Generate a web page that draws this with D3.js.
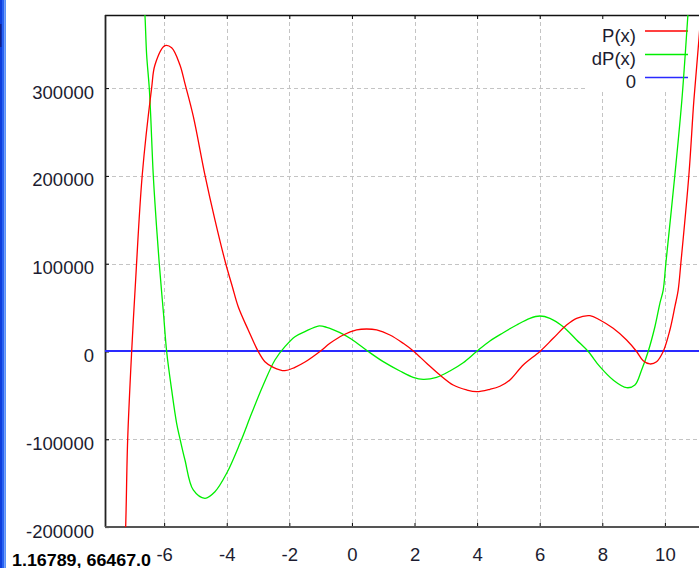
<!DOCTYPE html>
<html>
<head>
<meta charset="utf-8">
<script src="https://cdn.jsdelivr.net/npm/d3@7/dist/d3.min.js"></script>
<style>
  html, body { margin: 0; padding: 0; background: #fff; overflow: hidden; }
  svg { display: block; }
  .lbl { font-family: "Liberation Sans Narrow", "Liberation Sans", Arial, sans-serif; font-size: 18.5px; fill: #1c1c30; }
</style>
</head>
<body>
<script>
// ---- data ----
const xTicks = [-6, -4, -2, 0, 2, 4, 6, 8, 10];
const yTicks = [-200000, -100000, 0, 100000, 200000, 300000];

const pX = [-7.28, -7.23, -7.166, -7.038, -6.911, -6.70, -6.40, -6.294, -5.974, -5.76, -5.495, -5.335, -5.07, -4.696, -4.377, -4.035, -3.818, -3.633, -3.313, -2.994, -2.78, -2.514, -2.141, -1.821, -1.50, -1.022, -0.703, -0.278, 0.15, 0.47, 0.789, 1.214, 1.639, 1.981, 2.387, 2.812, 3.236, 3.665, 3.984, 4.409, 4.728, 5.048, 5.473, 6.006, 6.431, 6.859, 7.179, 7.604, 7.923, 8.348, 8.776, 9.096, 9.307, 9.521, 9.735, 9.946, 10.16, 10.319, 10.425, 10.511, 10.767, 10.927, 11.086, 11.18];
const pY = [-240000, -199900, -100800, 0, 81400, 201000, 300100, 326300, 348300, 346000, 326300, 305000, 268000, 201000, 150000, 100500, 73500, 51000, 24500, 0, -11600, -18000, -21900, -18000, -12000, 0, 9300, 18800, 24500, 25600, 24500, 18800, 9300, 0, -13400, -26800, -38200, -43800, -45800, -43100, -39600, -32500, -15400, 0, 15000, 30200, 37800, 40800, 35900, 26400, 13100, 0, -10500, -14200, -11600, 0, 24500, 51000, 70000, 100800, 201000, 286400, 354800, 400000];

const dX = [-6.645, -6.613, -6.559, -6.476, -6.431, -6.348, -6.24, -6.157, -6.086, -6.022, -5.92, -5.76, -5.601, -5.495, -5.335, -5.07, -4.696, -4.377, -4.003, -3.578, -3.204, -2.834, -2.46, -2.141, -1.821, -1.502, -1.077, -0.808, -0.383, -0.01, 0.521, 1.0, 1.534, 1.958, 2.278, 2.706, 3.131, 3.556, 3.984, 4.409, 4.834, 5.262, 5.687, 6.006, 6.326, 6.751, 7.179, 7.55, 7.923, 8.348, 8.776, 9.042, 9.256, 9.466, 9.681, 9.84, 9.946, 10.032, 10.319, 10.543, 10.735, 10.767];
const dY = [400000, 383000, 337700, 300400, 269300, 201000, 140700, 100500, 70000, 43800, 0, -43800, -81800, -99300, -123600, -157700, -167200, -159700, -138700, -104600, -70400, -38200, -9700, 5500, 16900, 22600, 29000, 27600, 21400, 13900, 0, -11600, -22200, -29400, -31700, -29400, -22200, -12800, 0, 12000, 21400, 30200, 37800, 40400, 37800, 28200, 13100, 0, -17300, -32500, -41200, -38200, -21100, 0, 28200, 54900, 70000, 100800, 201000, 286400, 383000, 400000];

const zeroX = [-7.89, 11.09];
const zeroY = [0, 0];

const seriesNames = ["P(x)", "dP(x)", "0"];
const seriesColors = ["#ff0000", "#00ee00", "#2a2aff"];
const cursorText = "1.16789, 66467.0";

// ---- layout ----
const W = 699, H = 568;
const L = 105, R = 699, T = 15, B = 527;

const svg = d3.select("body").append("svg").attr("width", W).attr("height", H);
svg.append("rect").attr("width", W).attr("height", H).attr("fill", "#fff");

// window edge
svg.append("rect").attr("x", 0).attr("y", 0).attr("width", 2).attr("height", H).attr("fill", "#0f3fdc");
svg.append("rect").attr("x", 2).attr("y", 0).attr("width", 2.5).attr("height", H).attr("fill", "#2862f2");
svg.append("rect").attr("x", 4.5).attr("y", 0).attr("width", 1.5).attr("height", H).attr("fill", "#5b93f8");
svg.append("rect").attr("x", 0).attr("y", 24).attr("width", 1.5).attr("height", 23).attr("fill", "#10208a");

const x = d3.scaleLinear().domain([-7.89, 11.09]).range([L, R]);
const y = d3.scaleLinear().domain([-199900, 383260]).range([B, T]);

svg.append("defs").append("clipPath").attr("id", "plot")
  .append("rect").attr("x", L).attr("y", T).attr("width", R - L).attr("height", B - T);

// grid
const grid = svg.append("g").attr("stroke", "#c4c4c4").attr("stroke-width", 1).attr("stroke-dasharray", "4,3");
grid.selectAll("line.v").data(xTicks).join("line")
  .attr("x1", d => Math.round(x(d)) + 0.5).attr("x2", d => Math.round(x(d)) + 0.5)
  .attr("y1", T).attr("y2", B);
grid.selectAll("line.h").data(yTicks.filter(d => d !== -200000)).join("line")
  .attr("x1", L).attr("x2", R)
  .attr("y1", d => Math.round(y(d)) + 0.5).attr("y2", d => Math.round(y(d)) + 0.5);

// legend background
svg.append("rect").attr("x", 585).attr("y", T + 1).attr("width", R - 585).attr("height", 76).attr("fill", "#fff");

// axes
const fmt = d => String(d);
const gx = svg.append("g").attr("transform", `translate(0,${B})`)
  .call(d3.axisBottom(x).tickValues(xTicks).tickSize(-4).tickFormat(fmt));
gx.select(".domain").remove();
gx.selectAll("text").attr("class", "lbl").attr("dy", null).attr("y", 33.5).attr("fill", null);
gx.selectAll("line").attr("stroke", "#000");

const gt = svg.append("g").attr("transform", `translate(0,${T})`)
  .call(d3.axisTop(x).tickValues(xTicks).tickSize(-4).tickFormat(""));
gt.select(".domain").remove();
gt.selectAll("line").attr("stroke", "#000");

const gy = svg.append("g").attr("transform", `translate(${L},0)`)
  .call(d3.axisLeft(y).tickValues(yTicks).tickSize(-4).tickPadding(11).tickFormat(fmt));
gy.select(".domain").remove();
gy.selectAll("text").attr("class", "lbl").attr("dy", null).attr("y", 10).attr("fill", null);
gy.selectAll("line").attr("stroke", "#000");

// frame
svg.append("line").attr("x1", L).attr("x2", R).attr("y1", T + 0.5).attr("y2", T + 0.5).attr("stroke", "#111").attr("stroke-width", 1.3);
svg.append("line").attr("x1", L + 0.5).attr("x2", L + 0.5).attr("y1", T).attr("y2", B).attr("stroke", "#222").attr("stroke-width", 1.8);
svg.append("line").attr("x1", L).attr("x2", R).attr("y1", B).attr("y2", B).attr("stroke", "#555").attr("stroke-width", 2);

// legend
const lgY = [31, 54.5, 77.5];
const lgTextY = [41.5, 64.5, 87.5];
const lg = svg.append("g");
seriesNames.forEach((n, i) => {
  lg.append("text").attr("class", "lbl").attr("x", 636).attr("y", lgTextY[i]).attr("text-anchor", "end").text(n);
  lg.append("line").attr("x1", 645).attr("x2", 688).attr("y1", lgY[i]).attr("y2", lgY[i])
    .attr("stroke", seriesColors[i]).attr("stroke-width", 1.3);
});

// curves
const line = d3.line().x(d => x(d[0])).y(d => y(d[1])).curve(d3.curveCatmullRom.alpha(0.5));
const plot = svg.append("g").attr("clip-path", "url(#plot)").attr("fill", "none");
plot.append("path").datum(zeroX.map((v, i) => [v, zeroY[i]])).attr("d", line)
  .attr("stroke", seriesColors[2]).attr("stroke-width", 2).attr("shape-rendering", "crispEdges");
plot.append("path").datum(dX.map((v, i) => [v, dY[i]])).attr("d", line)
  .attr("stroke", seriesColors[1]).attr("stroke-width", 1.3);
plot.append("path").datum(pX.map((v, i) => [v, pY[i]])).attr("d", line)
  .attr("stroke", seriesColors[0]).attr("stroke-width", 1.3);

// cursor readout
svg.append("text").attr("x", 12).attr("y", 566)
  .attr("font-family", "'Liberation Sans Narrow', 'Liberation Sans', Arial, sans-serif")
  .attr("font-weight", "bold").attr("font-size", 16).attr("fill", "#000")
  .attr("textLength", 139).attr("lengthAdjust", "spacingAndGlyphs")
  .text(cursorText);
</script>
</body>
</html>
